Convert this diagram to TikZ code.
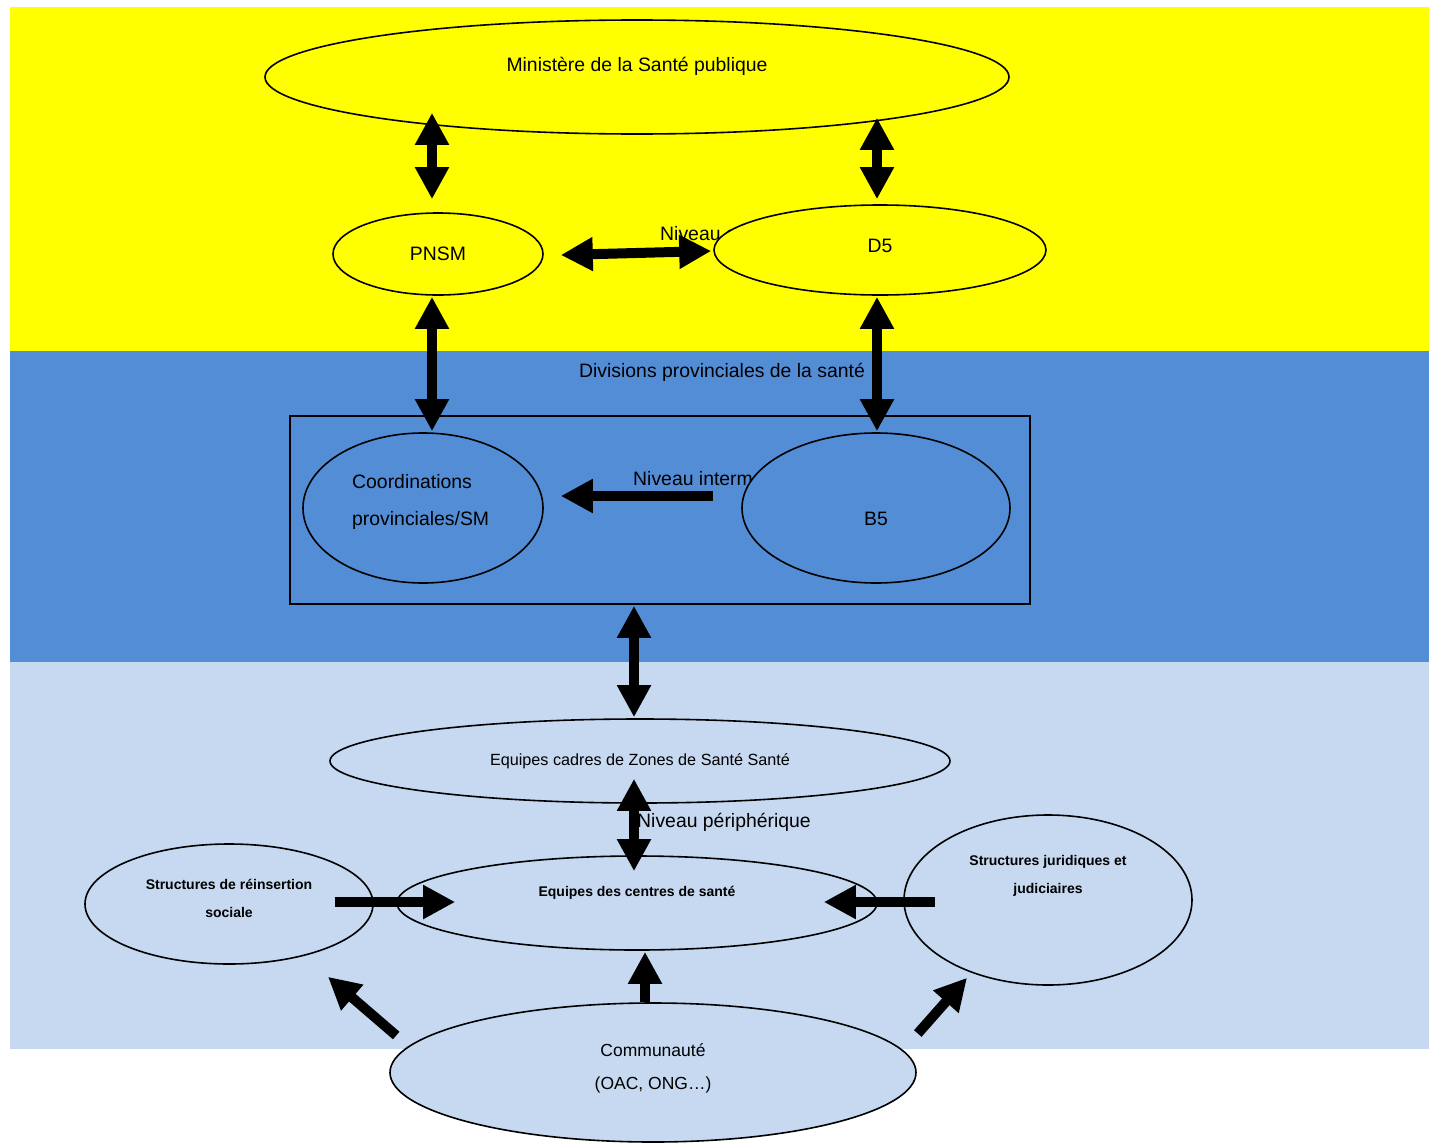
\documentclass[tikz,border=0pt]{standalone}
\usepackage{fontspec}
\setmainfont{Liberation Sans}
\usetikzlibrary{arrows.meta,shapes.geometric,calc}
\definecolor{cyel}{HTML}{FFFF00}
\definecolor{cmid}{HTML}{538DD5}
\definecolor{clight}{HTML}{C6D9F0}
\tikzset{
  ell/.style={ellipse, draw, line width=1.6pt, inner sep=0pt},
  lbl/.style={inner sep=0pt, font=\fontsize{19.4}{22}\selectfont},
  boldlbl/.style={inner sep=0pt, align=center, font=\bfseries\fontsize{14}{28}\selectfont},
  blk/.style={line width=10pt, >={Triangle[width=32pt,length=32pt]}},
}
\begin{document}
\begin{tikzpicture}[x=1pt,y=-1pt]
\useasboundingbox (0,0) rectangle (1429,1143);
% bands
\fill[cyel] (10,7) rectangle (1429,351);
\fill[cmid] (10,351) rectangle (1429,662);
\fill[clight] (10,662) rectangle (1429,1049);
% level texts (partly hidden by ellipses)
\node[lbl, anchor=west] (lvc) at (660,234) {Niveau central};
\node[lbl, anchor=west] (lvi) at (633,478) {Niveau intermédiaire};
\node[lbl] (div) at (722,372) {Divisions provinciales de la santé};
% frame
\node[draw, line width=1.6pt, inner sep=0pt, minimum width=740, minimum height=188] (box) at (660,510) {};
% ellipses
\node[ell, fill=cyel, minimum width=744, minimum height=114] (mini) at (637,77) {};
\node[ell, fill=cyel, minimum width=210, minimum height=82] (pnsm) at (438,254) {};
\node[ell, fill=cyel, minimum width=332, minimum height=90] (d5) at (880,250) {};
\node[ell, fill=cmid, minimum width=240, minimum height=150] (coord) at (423,508) {};
\node[ell, fill=cmid, minimum width=268, minimum height=150] (b5) at (876,508) {};
\node[ell, fill=clight, minimum width=620, minimum height=84] (cadres) at (640,761) {};
\node[ell, fill=clight, minimum width=480, minimum height=94] (centres) at (637,903) {};
\node[ell, fill=clight, minimum width=288, minimum height=120] (reins) at (229,904) {};
\node[ell, fill=clight, minimum width=288, minimum height=170] (jurid) at (1048,900) {};
\node[ell, fill=clight, minimum width=526, minimum height=139] (comm) at (653,1072.5) {};
% texts
\node[lbl] (tmini) at (637,66) {Ministère de la Santé publique};
\node[lbl] (tpnsm) at (438,254) {PNSM};
\node[lbl] (td5) at (880,246) {D5};
\node[lbl, anchor=west, align=left, font=\fontsize{19.4}{37}\selectfont] (tcoord) at (352,502) {Coordinations\\provinciales/SM};
\node[lbl] (tb5) at (876,519) {B5};
\node[lbl, font=\fontsize{16.2}{19}\selectfont] (tcadres) at (640,761) {Equipes cadres de Zones de Santé Santé};
\node[boldlbl] (tcentres) at (637,893) {Equipes des centres de santé};
\node[boldlbl] (treins) at (229,898) {Structures de réinsertion\\sociale};
\node[boldlbl] (tjurid) at (1048,876) {Structures juridiques et\\judiciaires};
\node[lbl, align=center, font=\fontsize{17.5}{33}\selectfont] (tcomm) at (653,1068) {Communauté\\(OAC, ONG…)};
% arrows
\draw[blk,<->] ($(mini.south)+(-205,-22)$) -- ($(pnsm.north)+(-6,-13)$);
\draw[blk,<->] ($(mini.south)+(240,-17)$) -- ($(d5.north)+(-3,-5)$);
\draw[blk,<->] ($(pnsm.east)+(17,1)$) -- ($(d5.west)+(-2,1)$);
\draw[blk,<->] ($(pnsm.south)+(-6,1)$) -- ($(coord.north)+(9,-1)$);
\draw[blk,<->] ($(d5.south)+(-3,1)$) -- ($(b5.north)+(1,-1)$);
\draw[blk,->] ($(b5.west)+(-28,-12)$) -- ($(coord.east)+(17,-12)$);
\draw[blk,<->] ($(box.south)+(-26,1)$) -- ($(cadres.north)+(-6,-1)$);
\draw[blk,<->] ($(cadres.south)+(-6,-25)$) -- ($(centres.north)+(-3,16)$);
\draw[blk,->] ($(reins.east)+(-39,-2)$) -- ($(centres.west)+(59,-1)$);
\draw[blk,->] ($(jurid.west)+(32,2)$) -- ($(centres.east)+(-54,-1)$);
\draw[blk,->] ($(comm.north)+(-8,0)$) -- ($(centres.south)+(8,1)$);
\draw[blk,->] ($(comm.west)+(7,-37)$) -- ($(reins.south)+(99,12)$);
\draw[blk,->] ($(comm.east)+(1,-39)$) -- ($(jurid.south)+(-81,-8)$);
\node[lbl, anchor=west] (lvp) at (637,822) {Niveau périphérique};
\end{tikzpicture}
\end{document}
